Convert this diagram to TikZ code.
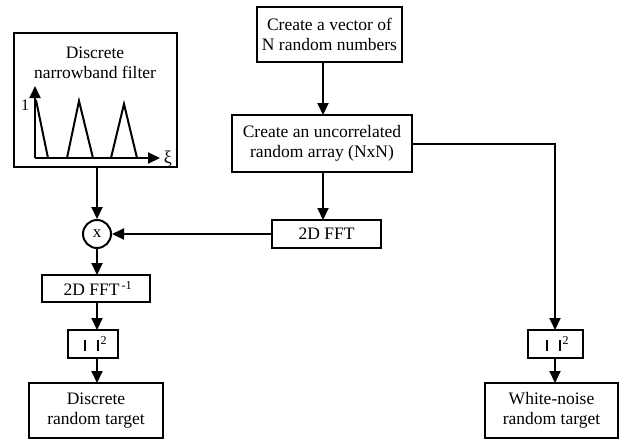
\documentclass[tikz,border=0pt]{standalone}
\usepackage{fontspec}
\setmainfont{Liberation Serif}
\usetikzlibrary{arrows.meta}
\newcommand{\absq}{\hspace{4pt}\rule[0pt]{2pt}{11pt}\hspace{11pt}\rule[0pt]{2pt}{11pt}\hspace{2pt}\raisebox{6pt}{\fontsize{12}{12}\selectfont 2}}
\begin{document}
\begin{tikzpicture}[x=1pt,y=-1pt,
  every node/.style={font=\fontsize{17.5}{20}\selectfont},
  box/.style={draw,line width=2pt,align=center,inner sep=0pt,outer sep=0pt},
  arr/.style={line width=2pt,-{Triangle[length=12pt,width=11pt]}},
  gline/.style={line width=2pt},
  garr/.style={line width=2pt,-{Triangle[length=12pt,width=11pt]}}]
\useasboundingbox (0,0) rectangle (623,440);
% right/center column
\node[box,minimum width=145pt,minimum height=55pt] (vec) at (329.5,34.5) {Create a vector of\\N random numbers};
\node[box,minimum width=180pt,minimum height=57pt] (unc) at (322,143.5) {Create an uncorrelated\\random array (NxN)};
\node[box,minimum width=109pt,minimum height=28pt] (fft) at (326.5,234) {2D FFT};
% left column
\node[box,minimum width=163pt,minimum height=134pt] (filter) at (95.5,100) {};
\node[align=center,inner sep=0pt] (ftitle) at (95,63) {Discrete\\narrowband filter};
\node[draw,circle,line width=2pt,minimum size=28pt,inner sep=0pt,font=\fontsize{17}{18}\selectfont] (mult) at (97,234) {x};
\node[box,minimum width=108pt,minimum height=27pt] (ifft) at (96,288.5) {\hspace{4pt}2D FFT\textsuperscript{\,-1}};
\node[box,minimum width=50pt,minimum height=28pt] (absL) at (93,344) {\absq};
\node[box,minimum width=134pt,minimum height=55pt] (disc) at (96,410.5) {Discrete\\random target};
% right side
\node[box,minimum width=55pt,minimum height=28pt] (absR) at (555,344) {\absq};
\node[box,minimum width=133pt,minimum height=55pt] (white) at (551.5,410.5) {White-noise\\random target};
% filter graph
\coordinate (o) at (35,158);
\coordinate (ytop) at (35,86);
\coordinate (xend) at (160,158);
\draw[garr] (o) -- (ytop);
\draw[garr] (o) -- (xend);
\draw[gline] (36,100) -- (48,158);
\draw[gline] (67,158) -- (79,101) -- (93,158);
\draw[gline] (111,158) -- (124,104) -- (137,158);
\node[font=\fontsize{16}{17}\selectfont,inner sep=0pt] (one) at (25,105) {1};
\node[font=\fontsize{18}{18}\selectfont,inner sep=0pt] (xi) at (168,159) {ξ};
% connectors
\draw[arr] (vec.south -| 323,0) -- (unc.north -| 323,0);
\draw[arr] (unc.south -| 323,0) -- (fft.north -| 323,0);
\draw[arr] (unc.east) -| (absR.north);
\draw[arr] (absR.south) -- (absR.south |- white.north);
\draw[arr] (fft.west) -- (mult.east);
\draw[arr] (mult |- filter.south) -- (mult.north);
\draw[arr] (mult.south) -- (mult |- ifft.north);
\draw[arr] (mult |- ifft.south) -- (mult |- absL.north);
\draw[arr] (mult |- absL.south) -- (mult |- disc.north);
\end{tikzpicture}
\end{document}
